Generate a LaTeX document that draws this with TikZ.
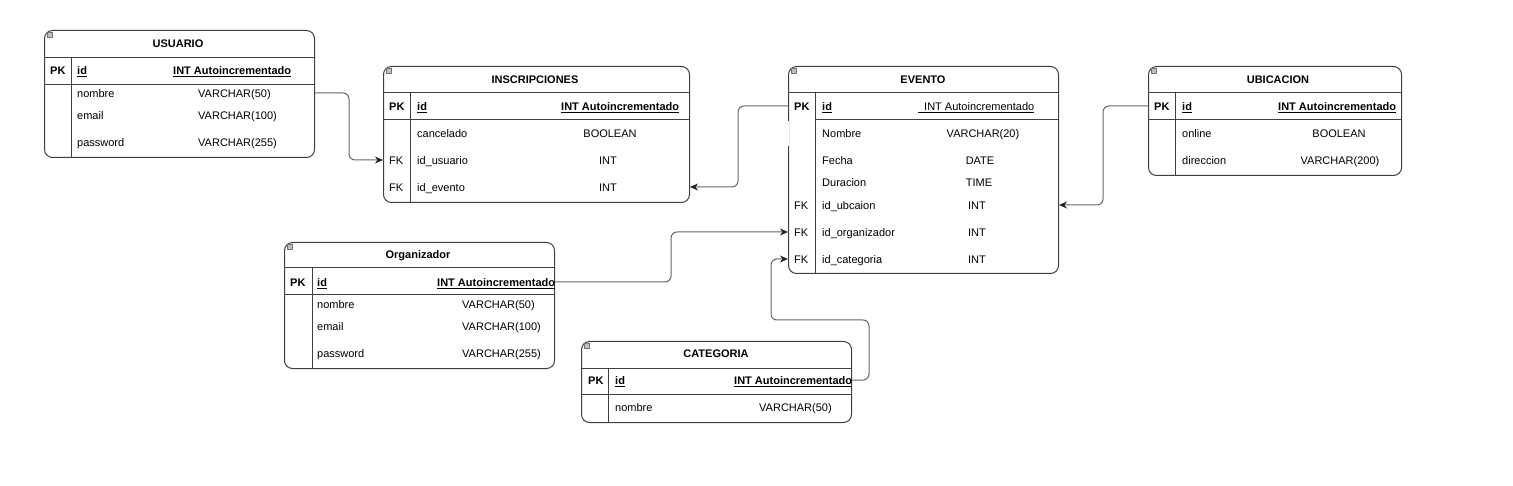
\documentclass[tikz,border=0pt]{standalone}
\usepackage{fontspec}
\setmainfont{Liberation Sans}
\usetikzlibrary{arrows.meta}

\begin{document}
\begin{tikzpicture}[x=1pt, y=-1pt,
    every node/.style={font=\fontsize{11}{13}\selectfont, inner sep=0pt, text height=12pt, text depth=2.5pt},
    tbl/.style={draw=black!75, line width=1pt, rounded corners=8pt, anchor=north west},
    head/.style={font=\fontsize{11}{13}\selectfont\bfseries},
    key/.style={anchor=west, font=\fontsize{11}{13}\selectfont\bfseries},
    fld/.style={anchor=west},
    rule/.style={draw=black!75, line width=1pt},
    ico/.style={draw=black!55, fill=black!25, line width=0.5pt},
    rel/.style={draw=black!60, line width=1pt, rounded corners=6pt,
                -{Stealth[length=8pt, width=7pt, inset=2.5pt, color=black!85]}}]
\useasboundingbox (0,0) rectangle (1513,486);

% USUARIO
\node[tbl, minimum width=270pt, minimum height=127pt] (usuario) at (44,30) {};
\draw[rule] (44,58) -- (314,58) (44,85) -- (314,85) (71,58) -- (71,157);
\draw[ico] (47,32) rectangle ++(5,5);
\node[head] (usu-title) at (178,43) {USUARIO};
\node[key] (usu-pk) at (50,70) {PK};
\node[key] (usu-id) at (77,70) {\underline{id}};
\node[key] (usu-idt) at (173,70) {\underline{INT Autoincrementado}};
\node[fld] (usu-nombre) at (77,93) {nombre};
\node[fld] (usu-nombret) at (198,93) {VARCHAR(50)};
\node[fld] (usu-email) at (77,115) {email};
\node[fld] (usu-emailt) at (198,115) {VARCHAR(100)};
\node[fld] (usu-pass) at (77,142) {password};
\node[fld] (usu-passt) at (198,142) {VARCHAR(255)};

% INSCRIPCIONES
\node[tbl, minimum width=306pt, minimum height=136pt] (inscripciones) at (383,66) {};
\draw[rule] (383,93) -- (689,93) (383,120) -- (689,120) (410,93) -- (410,202);
\draw[ico] (386,68) rectangle ++(5,5);
\node[head] (ins-title) at (535,79) {INSCRIPCIONES};
\node[key] (ins-pk) at (389,106) {PK};
\node[key] (ins-id) at (417,106) {\underline{id}};
\node[key] (ins-idt) at (561,106) {\underline{INT Autoincrementado}};
\node[fld] (ins-cancelado) at (417,133) {cancelado};
\node (ins-cancelt) at (610,133) {BOOLEAN};
\node[fld] (ins-fk1) at (389,160) {FK};
\node[fld] (ins-usuario) at (417,160) {id\_usuario};
\node (ins-usuariot) at (608,160) {INT};
\node[fld] (ins-fk2) at (389,187) {FK};
\node[fld] (ins-evento) at (417,187) {id\_evento};
\node (ins-eventot) at (608,187) {INT};

% EVENTO
\node[tbl, minimum width=270pt, minimum height=207pt] (evento) at (788,66) {};
\draw[white, line width=1.5pt] (788,121.5) -- (788,146);
\draw[rule] (788,93) -- (1058,93) (815,120) -- (1058,120) (815,93) -- (815,273);
\draw[ico] (791,68) rectangle ++(5,5);
\node[head] (evt-title) at (923,79) {EVENTO};
\node[key] (evt-pk) at (794,106) {PK};
\node[key] (evt-id) at (822,106) {\underline{id}};
\node[fld] (evt-idt) at (918,106) {\underline{\hspace{6pt}INT Autoincrementado}};
\node[fld] (evt-nombre) at (822,133) {Nombre};
\node (evt-nombret) at (983,133) {VARCHAR(20)};
\node[fld] (evt-fecha) at (822,160) {Fecha};
\node (evt-fechat) at (980,160) {DATE};
\node[fld] (evt-duracion) at (822,182) {Duracion};
\node (evt-duraciont) at (979,182) {TIME};
\node[fld] (evt-fk1) at (794,205) {FK};
\node[fld] (evt-ubicacion) at (822,205) {id\_ubcaion};
\node (evt-ubicaciont) at (977,205) {INT};
\node[fld] (evt-fk2) at (794,232) {FK};
\node[fld] (evt-organizador) at (822,232) {id\_organizador};
\node (evt-organizadort) at (977,232) {INT};
\node[fld] (evt-fk3) at (794,259) {FK};
\node[fld] (evt-categoria) at (822,259) {id\_categoria};
\node (evt-categoriat) at (977,259) {INT};

% UBICACION
\node[tbl, minimum width=253pt, minimum height=109pt] (ubicacion) at (1148,66) {};
\draw[rule] (1148,93) -- (1401,93) (1148,120) -- (1401,120) (1175,93) -- (1175,175);
\draw[ico] (1151,68) rectangle ++(5,5);
\node[head] (ubi-title) at (1278,79) {UBICACION};
\node[key] (ubi-pk) at (1154,106) {PK};
\node[key] (ubi-id) at (1182,106) {\underline{id}};
\node[key] (ubi-idt) at (1278,106) {\underline{INT Autoincrementado}};
\node[fld] (ubi-online) at (1182,133) {online};
\node (ubi-onlinet) at (1339,133) {BOOLEAN};
\node[fld] (ubi-direccion) at (1182,160) {direccion};
\node (ubi-direcciont) at (1340,160) {VARCHAR(200)};

% Organizador
\node[tbl, minimum width=270pt, minimum height=126pt] (organizador) at (284,242) {};
\draw[rule] (284,268) -- (554,268) (284,295) -- (554,295) (312,268) -- (312,368);
\draw[ico] (287,244) rectangle ++(5,5);
\node[head] (org-title) at (418,254) {Organizador};
\node[key] (org-pk) at (290,282) {PK};
\node[key] (org-id) at (317,282) {\underline{id}};
\node[key] (org-idt) at (437,282) {\underline{INT Autoincrementado}};
\node[fld] (org-nombre) at (317,304) {nombre};
\node[fld] (org-nombret) at (462,304) {VARCHAR(50)};
\node[fld] (org-email) at (317,326) {email};
\node[fld] (org-emailt) at (462,326) {VARCHAR(100)};
\node[fld] (org-pass) at (317,353) {password};
\node[fld] (org-passt) at (462,353) {VARCHAR(255)};

% CATEGORIA
\node[tbl, minimum width=270pt, minimum height=81pt] (categoria) at (581,341) {};
\draw[rule] (581,368) -- (851,368) (581,394) -- (851,394) (608,368) -- (608,422);
\draw[ico] (584,343) rectangle ++(5,5);
\node[head] (cat-title) at (716,353) {CATEGORIA};
\node[key] (cat-pk) at (588,380) {PK};
\node[key] (cat-id) at (615,380) {\underline{id}};
\node[key] (cat-idt) at (734,380) {\underline{INT Autoincrementado}};
\node[fld] (cat-nombre) at (615,407) {nombre};
\node[fld] (cat-nombret) at (759,407) {VARCHAR(50)};

% relaciones
\draw[rel] (usuario.east |- usu-nombre) -- ++(34,0) |- (inscripciones.west |- ins-usuario);
\draw[rel] (evento.west |- evt-id) -- ++(-50,0) |- (inscripciones.east |- ins-evento);
\draw[rel] (ubicacion.west |- ubi-id) -- ++(-45,0) |- (evento.east |- evt-ubicacion);
\draw[rel] (organizador.east |- org-id) -- ++(116,0) |- (evento.west |- evt-organizador);
\draw[rel] (categoria.east |- cat-id) -- ++(17,0) |- ++(-98,-60) |- (evento.west |- evt-categoria);
\end{tikzpicture}
\end{document}
